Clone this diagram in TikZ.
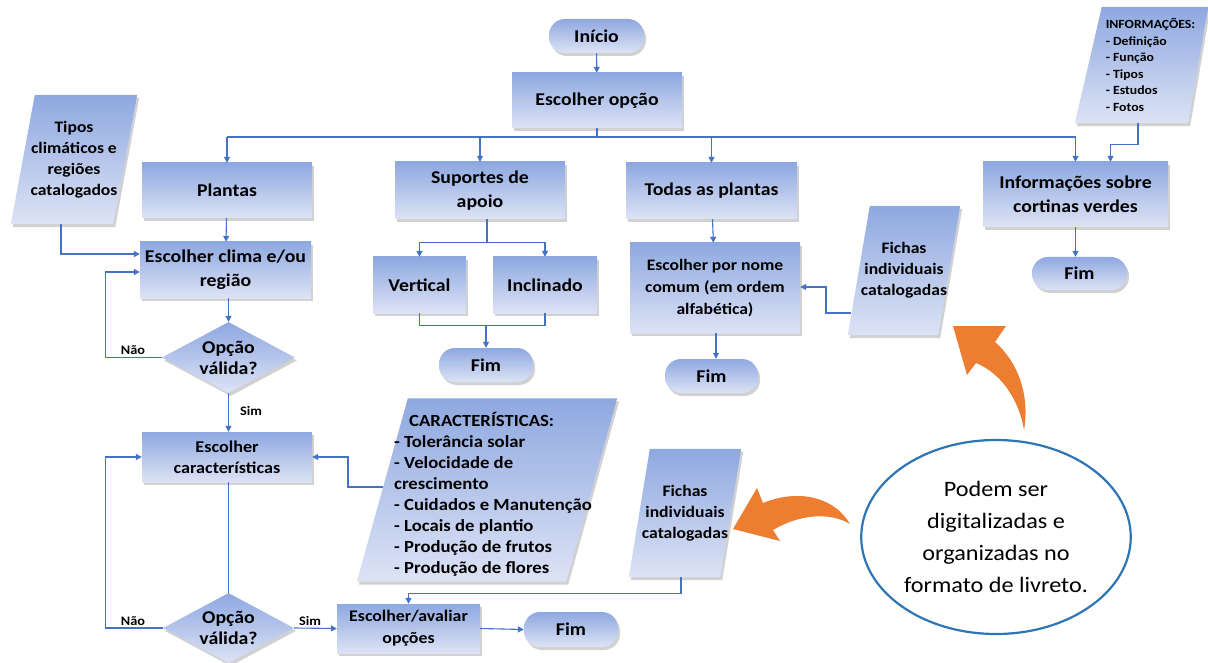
\documentclass[tikz,border=0pt]{standalone}
\usepackage{fontspec}
\setmainfont{Carlito}[FakeStretch=1.1]
\usetikzlibrary{arrows.meta,shapes.geometric,backgrounds,calc}
\definecolor{btop}{RGB}{142,168,224}
\definecolor{bbot}{RGB}{221,227,245}
\definecolor{lnc}{RGB}{68,114,196}
\definecolor{org}{RGB}{237,125,49}
\definecolor{ell}{RGB}{46,117,182}
\tikzset{
 shad/.style={preaction={fill=black!45, opacity=0.4, transform canvas={shift={(2pt,-3pt)}}}},
 grad/.style={top color=btop, bottom color=bbot, draw=none},
 proc/.style={grad, shad, rectangle, inner sep=0pt, align=center, font=\bfseries\fontsize{18}{24}\selectfont},
 term/.style={proc, rounded corners=16pt},
 dec/.style={grad, shad, diamond, aspect=1.8, inner sep=0pt, align=center, font=\bfseries\fontsize{18}{21}\selectfont},
 pbox/.style={rectangle, inner sep=0pt, align=center, font=\bfseries\fontsize{16}{21}\selectfont},
 para/.style={grad, shad},
 conn/.style={draw=lnc, line width=1.1pt},
 arr/.style={conn, -{Triangle[width=6pt,length=6pt]}},
 lab/.style={font=\bfseries\fontsize{13}{14}\selectfont},
 orarrow/.style={fill=org, draw=none},
}
\begin{document}
\begin{tikzpicture}[x=1pt,y=-1pt]
\useasboundingbox (0,0) rectangle (1208,663);

% ---- process / terminal nodes
\node[term, minimum width=95pt, minimum height=34pt] (inicio) at (596.5,36) {Início};
\node[proc, minimum width=170pt, minimum height=55pt] (escop) at (597,100.5) {Escolher opção};
\node[proc, minimum width=170pt, minimum height=55pt] (plantas) at (227,190.5) {Plantas};
\node[proc, minimum width=170pt, minimum height=57pt] (sup) at (480,190.5) {Suportes de\\apoio};
\node[proc, minimum width=171pt, minimum height=56pt] (todas) at (711.5,191) {Todas as plantas};
\node[proc, minimum width=185pt, minimum height=65pt] (info) at (1075.5,194.5) {Informações sobre\\cortinas verdes};
\node[proc, minimum width=171pt, minimum height=56pt] (clima) at (225.5,270) {Escolher clima e/ou\\região};
\node[proc, minimum width=93pt, minimum height=56pt] (vert) at (419.5,285) {Vertical};
\node[proc, minimum width=104pt, minimum height=56pt] (incl) at (545,285) {Inclinado};
\node[term, minimum width=94pt, minimum height=34pt] (fim2) at (486,365) {Fim};
\node[proc, minimum width=170pt, minimum height=90pt, font=\bfseries\fontsize{16}{22}\selectfont] (nome) at (715,288) {Escolher por nome\\comum (em ordem\\alfabética)};
\node[term, minimum width=93pt, minimum height=34pt] (fim3) at (711.5,376) {Fim};
\node[term, minimum width=95pt, minimum height=33pt] (fim1) at (1079.5,273.5) {Fim};
\node[dec, minimum width=133pt, minimum height=71pt] (d1) at (228.5,357.5) {Opção\\válida?};
\node[proc, minimum width=170pt, minimum height=50pt, font=\bfseries\fontsize{16.5}{21}\selectfont] (car) at (227,457) {Escolher\\características};
\node[dec, minimum width=131pt, minimum height=70pt] (d2) at (228.5,628) {Opção\\válida?};
\node[proc, minimum width=143pt, minimum height=49pt, font=\bfseries\fontsize{16.2}{22}\selectfont] (ea) at (408.5,628.5) {Escolher/avaliar\\opções};
\node[term, minimum width=94pt, minimum height=35pt] (fim4) at (571,629.5) {Fim};

% ---- data (parallelogram) nodes: text holders
\node[pbox, minimum width=126pt, minimum height=129pt] (tipos) at (74,159.5) {Tipos\\climáticos e\\regiões\\catalogados};
\node[pbox, minimum width=112pt, minimum height=129pt] (fichas1) at (904,270.5) {Fichas\\individuais\\catalogadas};
\node[pbox, minimum width=133pt, minimum height=116pt, align=left, font=\bfseries\fontsize{12.5}{16.5}\selectfont] (infolist) at (1150.5,65) {INFORMAÇÕES:\\- Definição\\- Função\\- Tipos\\- Estudos\\- Fotos};
\node[pbox, minimum width=260pt, minimum height=187pt, align=left, font=\bfseries\fontsize{17}{21}\selectfont] (caract) at (493,494) {\hspace*{15pt}CARACTERÍSTICAS:\\- Tolerância solar\\- Velocidade de\\crescimento\\- Cuidados e Manutenção\\- Locais de plantio\\- Produção de frutos\\- Produção de flores};
\node[pbox, minimum width=112pt, minimum height=128pt] (fichas2) at (685,513) {Fichas\\individuais\\catalogadas};

\begin{pgfonlayer}{background}
\path[para] ([xshift=24pt]tipos.north west) -- (tipos.north east) -- ([xshift=-24pt]tipos.south east) -- (tipos.south west) -- cycle;
\path[para] ([xshift=22pt]fichas1.north west) -- (fichas1.north east) -- ([xshift=-22pt]fichas1.south east) -- (fichas1.south west) -- cycle;
\path[para] ([xshift=18pt]infolist.north west) -- ([xshift=-9pt]infolist.north east) -- ([xshift=-29pt]infolist.south east) -- ([xshift=-9pt]infolist.south west) -- cycle;
\path[para] ([xshift=45pt,yshift=2pt]caract.north west) -- ([xshift=-6pt,yshift=2pt]caract.north east) -- ([xshift=-57pt,yshift=6pt]caract.south east) -- ([xshift=-6pt,yshift=6pt]caract.south west) -- cycle;
\path[para] ([xshift=21pt]fichas2.north west) -- (fichas2.north east) -- ([xshift=-21pt]fichas2.south east) -- (fichas2.south west) -- cycle;
\end{pgfonlayer}

% ---- note ellipse
\node[ellipse, draw=ell, line width=2.2pt, fill=white, minimum width=262pt, minimum height=194pt, align=center, font=\fontsize{22}{32}\selectfont] (nota) at (996,537) {Podem ser\\digitalizadas e\\organizadas no\\formato de livreto.};

% ---- connectors
\coordinate (bus) at (597,137);
\draw[arr] (inicio) -- (escop);
\draw[conn] (escop.south) -- (bus);
\draw[conn] (bus -| plantas.north) -- (bus -| info.north);
\draw[arr] (bus -| plantas.north) -- (plantas.north);
\draw[arr] (bus -| sup.north) -- (sup.north);
\draw[arr] (bus -| todas.north) -- (todas.north);
\draw[arr] (bus -| info.north) -- (info.north);

\draw[arr] ([xshift=-12.5pt]infolist.south) -- ++(0,21) -| ([xshift=35pt]info.north);
\draw[arr] (info.south) -- (info.south |- fim1.north);

\draw[arr] (plantas) -- (clima);
\draw[arr] ([xshift=-13pt]tipos.south) |- ([yshift=16pt]clima.west);
\draw[arr] (clima.south -| d1.north) -- (d1.north);
\draw[arr] (d1.west) -- ++(-56,0) |- ([yshift=-2pt]clima.west);
\node[lab] (nao1) at (133,350) {Não};
\draw[arr] (d1.south) -- (d1.south |- car.north);
\node[lab] (sim1) at (251,411) {Sim};

\draw[conn] (car.south -| d2.north) -- (d2.north);
\draw[arr] (d2.west) -- ++(-57,0) |- (car.west);
\node[lab] (nao2) at (133,621) {Não};
\draw[arr] (d2.east) -- (ea.west);
\node[lab] (sim2) at (310,621) {Sim};
\draw[arr] (ea.east) -- (fim4.west);
\coordinate (cin) at (383,487);
\draw[arr] (cin) -- ++(-35,0) |- (car.east);
\draw[arr] ([xshift=-4pt]fichas2.south) -- ++(0,16) -| (ea.north);

\draw[conn] ([xshift=7pt]sup.south) -- ++(0,23) coordinate (sb);
\draw[arr] (sb) -| (vert.north);
\draw[arr] (sb) -| (incl.north);
\draw[conn] (vert.south) -- ++(0,12) -| (incl.south);
\draw[arr] ([yshift=23pt]fim2.north) -- (fim2.north);

\draw[arr] (todas) -- (nome);
\draw[arr] ([xshift=1pt]nome.south) -- ([xshift=1pt]nome.south |- fim3.north);
\coordinate (f1in) at (851,313);
\draw[arr] (f1in) -- ++(-25,0) |- ([yshift=1pt]nome.east);

% ---- orange curved arrows
\fill[orarrow] (953,326) -- (1006,326) -- (995,342) .. controls (1018,362) and (1030,395) .. (1024,430) .. controls (1020,405) and (1005,375) .. (976,363) -- (967,375) -- cycle;
\fill[orarrow] (733,529) -- (757,488) -- (763,503) .. controls (800,488) and (835,498) .. (850,524) .. controls (830,512) and (800,514) .. (773,530) -- (780,541) -- cycle;
\end{tikzpicture}
\end{document}
